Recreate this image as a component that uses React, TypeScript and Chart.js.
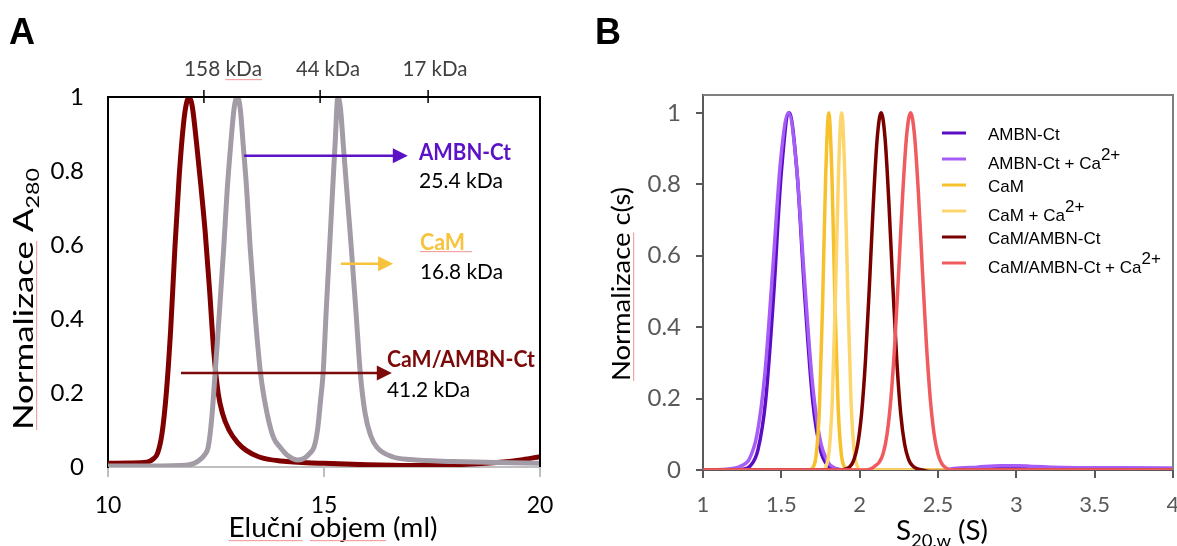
import React, { useEffect, useRef } from 'react';
import { Chart, registerables } from 'chart.js';

Chart.register(...registerables);

// ---------------- Panel A: SEC elution profiles ----------------
const secVolumeComplex = [10, 10.5, 10.9, 11.05, 11.15, 11.25, 11.35, 11.45, 11.55, 11.65, 11.75, 11.82, 11.88, 11.95, 12.05, 12.15, 12.25, 12.35, 12.45, 12.55, 12.65, 12.8, 13.0, 13.2, 13.5, 14, 15, 16, 17, 18, 19, 19.6, 20];
const secA280Complex = [0.01, 0.011, 0.013, 0.022, 0.038, 0.09, 0.2, 0.37, 0.595, 0.79, 0.93, 0.985, 1, 0.975, 0.875, 0.76, 0.635, 0.48, 0.31, 0.2, 0.145, 0.1, 0.066, 0.045, 0.027, 0.016, 0.01, 0.006, 0.004, 0.006, 0.012, 0.02, 0.028];
const secVolumeSingle = [10, 11, 11.8, 12.0, 12.15, 12.25, 12.32, 12.4, 12.48, 12.58, 12.68, 12.76, 12.84, 12.92, 12.99, 13.06, 13.13, 13.21, 13.29, 13.4, 13.53, 13.68, 13.83, 13.98, 14.15, 14.4, 14.55, 14.68, 14.77, 14.85, 14.92, 14.98, 15.05, 15.13, 15.2, 15.26, 15.32, 15.38, 15.45, 15.54, 15.63, 15.74, 15.84, 15.95, 16.08, 16.22, 16.6, 17, 18, 19, 20];
const secA280Single = [0.003, 0.003, 0.005, 0.01, 0.022, 0.035, 0.054, 0.13, 0.254, 0.42, 0.595, 0.75, 0.87, 0.97, 1, 0.97, 0.87, 0.75, 0.595, 0.42, 0.254, 0.146, 0.08, 0.054, 0.032, 0.019, 0.024, 0.038, 0.054, 0.1, 0.18, 0.254, 0.42, 0.595, 0.75, 0.88, 1, 0.97, 0.865, 0.73, 0.595, 0.42, 0.254, 0.146, 0.085, 0.054, 0.027, 0.02, 0.015, 0.012, 0.01];
const secXTicks = [10, 15, 20];
const secYTicks = [0, 0.2, 0.4, 0.6, 0.8, 1];
const secMarkerLabels = ['158 kDa', '44 kDa', '17 kDa'];
const secMarkerVolumes = [12.22, 14.91, 17.41];
const secPeakNames = ['AMBN-Ct', 'CaM', 'CaM/AMBN-Ct'];
const secPeakMasses = ['25.4 kDa', '16.8 kDa', '41.2 kDa'];

// ---------------- Panel B: AUC c(s) distributions ----------------
const aucNames = ['AMBN-Ct', 'AMBN-Ct + Ca²⁺', 'CaM', 'CaM + Ca²⁺', 'CaM/AMBN-Ct', 'CaM/AMBN-Ct + Ca²⁺'];
const sAmbn = [1.0, 1.2, 1.25, 1.3, 1.35, 1.4, 1.45, 1.5, 1.55, 1.6, 1.65, 1.7, 1.75, 1.8, 1.85, 1.9, 2.0, 2.6, 2.75, 2.9, 3.0, 3.1, 3.3, 3.6, 4.0];
const cAmbn = [0, 0, 0.002, 0.011, 0.055, 0.195, 0.484, 0.834, 1.0, 0.834, 0.484, 0.195, 0.055, 0.011, 0.002, 0, 0, 0, 0.005, 0.009, 0.01, 0.008, 0.006, 0.005, 0.004];
const sAmbnCa = [1.0, 1.15, 1.2, 1.245, 1.295, 1.345, 1.395, 1.445, 1.495, 1.545, 1.595, 1.645, 1.695, 1.745, 1.795, 1.845, 1.9, 2.0, 2.5, 2.6, 2.75, 2.9, 3.0, 3.1, 3.3, 3.6, 4.0];
const cAmbnCa = [0, 0.002, 0.005, 0.012, 0.03, 0.1, 0.27, 0.56, 0.865, 1.0, 0.86, 0.55, 0.26, 0.09, 0.024, 0.005, 0, -0.004, -0.004, 0.004, 0.008, 0.012, 0.012, 0.01, 0.007, 0.006, 0.005];
const sCam = [1.0, 1.68, 1.703, 1.723, 1.743, 1.763, 1.783, 1.803, 1.823, 1.843, 1.863, 1.883, 1.903, 1.926, 4.0];
const cCam = [0, 0, 0.008, 0.044, 0.172, 0.458, 0.823, 1.0, 0.823, 0.458, 0.172, 0.044, 0.008, 0, 0];
const sCamCa = [1.0, 1.765, 1.785, 1.805, 1.825, 1.845, 1.865, 1.885, 1.905, 1.925, 1.945, 1.965, 1.985, 2.005, 4.0];
const cCamCa = [0, 0, 0.01, 0.053, 0.192, 0.48, 0.832, 1.0, 0.832, 0.48, 0.192, 0.053, 0.01, 0, 0];
const sComplex = [1.0, 1.88, 1.912, 1.937, 1.962, 1.987, 2.012, 2.037, 2.062, 2.087, 2.112, 2.137, 2.162, 2.187, 2.212, 2.237, 2.262, 2.287, 2.312, 2.337, 2.365, 2.4, 2.45, 2.55, 2.6, 4.0];
const cComplex = [0, 0, 0.003, 0.009, 0.027, 0.07, 0.157, 0.306, 0.514, 0.744, 0.929, 1.0, 0.929, 0.744, 0.514, 0.306, 0.157, 0.072, 0.03, 0.012, 0.004, 0, -0.004, -0.004, 0, 0];
const sComplexCa = [1.0, 2.03, 2.075, 2.1, 2.125, 2.15, 2.175, 2.2, 2.225, 2.25, 2.275, 2.3, 2.325, 2.35, 2.375, 2.4, 2.425, 2.45, 2.475, 2.5, 2.525, 2.55, 2.6, 4.0];
const cComplexCa = [0, 0, 0.004, 0.012, 0.022, 0.046, 0.101, 0.203, 0.36, 0.563, 0.775, 0.938, 1.0, 0.938, 0.775, 0.563, 0.36, 0.203, 0.101, 0.044, 0.017, 0.006, 0, 0];
const aucXTicks = [1, 1.5, 2, 2.5, 3, 3.5, 4];
const aucYTicks = [0, 0.2, 0.4, 0.6, 0.8, 1];

// ---------------- styling ----------------
const COL_COMPLEX_A = '#7F0000';
const COL_SINGLE_A = '#A39CA6';
const ARROW_COLORS = ['#5B12C6', '#F8C33C', '#7C0A0A'];
const AUC_COLORS = ['#5B0DC4', '#A65CF6', '#F7C12C', '#FCD66C', '#7A0000', '#EF5B5F'];
const AUC_ORDER = [6, 5, 4, 3, 2, 1];

type Seg = { t: string; size?: number; weight?: string; family?: string; dy?: number; mark?: boolean };

function drawRich(
  ctx: CanvasRenderingContext2D,
  segs: Seg[],
  x: number,
  y: number,
  o: { color: string; size: number; weight?: string; family?: string; align?: 'left' | 'center' | 'right'; width?: number; rotate?: boolean }
) {
  ctx.save();
  const fontOf = (s: Seg) => `${s.weight || o.weight || 'normal'} ${s.size || o.size}px ${s.family || o.family || 'Lato'}`;
  let total = 0;
  const ws = segs.map((s) => {
    ctx.font = fontOf(s);
    const w = ctx.measureText(s.t).width;
    total += w;
    return w;
  });
  const sx = o.width ? o.width / total : 1;
  ctx.translate(x, y);
  if (o.rotate) ctx.rotate(-Math.PI / 2);
  ctx.scale(sx, 1);
  let cx = o.align === 'center' ? -total / 2 : o.align === 'right' ? -total : 0;
  ctx.textBaseline = 'alphabetic';
  ctx.textAlign = 'left';
  segs.forEach((s, i) => {
    ctx.font = fontOf(s);
    ctx.fillStyle = o.color;
    ctx.fillText(s.t, cx, s.dy || 0);
    if (s.mark) {
      ctx.fillStyle = '#F3A3A3';
      ctx.fillRect(cx, 3, ws[i], 1.2);
    }
    cx += ws[i];
  });
  ctx.restore();
}

function drawArrow(ctx: CanvasRenderingContext2D, x1: number, x2: number, y: number, color: string) {
  ctx.save();
  ctx.strokeStyle = color;
  ctx.fillStyle = color;
  ctx.lineWidth = 2.5;
  ctx.beginPath();
  ctx.moveTo(x1, y);
  ctx.lineTo(x2 - 12, y);
  ctx.stroke();
  ctx.beginPath();
  ctx.moveTo(x2, y);
  ctx.lineTo(x2 - 15, y - 7.5);
  ctx.lineTo(x2 - 15, y + 7.5);
  ctx.closePath();
  ctx.fill();
  ctx.restore();
}

const fmt = (v: number) => String(Math.round(v * 100) / 100);

// annotation anchors (data units) for panel A
const ARROWS_A = [
  { from: 13.15, to: 16.94, level: 0.841 },
  { from: 15.39, to: 16.6, level: 0.549 },
  { from: 11.69, to: 16.57, level: 0.254 },
];
const LABELS_A = [
  { x: 419, nameY: 160, massY: 188, nameW: 92, massW: 84 },
  { x: 420, nameY: 250, massY: 279, nameW: 45, massW: 83 },
  { x: 387, nameY: 367, massY: 397, nameW: 148, massW: 83 },
];
const MARKER_LABEL_X = [223, 328, 435];
const MARKER_LABEL_W = [78, 64, 65];

const panelAPlugin = {
  id: 'panelA',
  afterDatasetsDraw(chart: any) {
    const { ctx, chartArea: a, scales } = chart;
    const x = scales.x;
    const y = scales.y;
    ctx.save();
    ctx.strokeStyle = '#000';
    ctx.lineWidth = 2;
    ctx.beginPath();
    ctx.moveTo(a.left, a.top);
    ctx.lineTo(a.right, a.top);
    ctx.lineTo(a.right, a.bottom);
    ctx.stroke();
    ctx.lineWidth = 1.5;
    secMarkerVolumes.forEach((v) => {
      const px = x.getPixelForValue(v);
      ctx.beginPath();
      ctx.moveTo(px, a.top - 7);
      ctx.lineTo(px, a.top + 6);
      ctx.stroke();
    });
    ctx.restore();

    secMarkerLabels.forEach((lab, i) => {
      const parts = lab.split(' ');
      drawRich(ctx, [{ t: parts[0] + ' ' }, { t: parts[1], mark: i === 0 }], MARKER_LABEL_X[i], 76, {
        color: '#404040', size: 22, align: 'center', width: MARKER_LABEL_W[i],
      });
    });

    ARROWS_A.forEach((ar, i) => {
      drawArrow(ctx, x.getPixelForValue(ar.from), x.getPixelForValue(ar.to), y.getPixelForValue(ar.level), ARROW_COLORS[i]);
      const L = LABELS_A[i];
      drawRich(ctx, [{ t: secPeakNames[i] }], L.x, L.nameY, { color: ARROW_COLORS[i], size: 23, weight: 'bold', width: L.nameW });
      drawRich(ctx, [{ t: secPeakMasses[i] }], L.x, L.massY, { color: '#000', size: 22, width: L.massW });
    });
    ctx.save();
    ctx.fillStyle = '#F3A3A3';
    ctx.fillRect(420, 251, 52, 1.2);
    ctx.restore();

    drawRich(ctx, [{ t: 'Eluční', mark: true }, { t: ' ' }, { t: 'objem', mark: true }, { t: ' (ml)' }], 333, 537, {
      color: '#000', size: 26, align: 'center', width: 209,
    });
    drawRich(ctx, [{ t: 'Normalizace', mark: true }, { t: ' A' }, { t: '280', size: 18, dy: 6 }], 33, 430, {
      color: '#000', size: 27, rotate: true, width: 262,
    });
    drawRich(ctx, [{ t: 'A' }], 9, 44, { color: '#000', size: 36, weight: 'bold', family: 'Liberation Sans' });
  },
};

const LEGEND_LINE_Y = [133, 159, 185, 211, 237, 263];
const panelBPlugin = {
  id: 'panelB',
  afterDatasetsDraw(chart: any) {
    const { ctx, chartArea: a } = chart;
    ctx.save();
    ctx.strokeStyle = '#808080';
    ctx.lineWidth = 2;
    ctx.beginPath();
    ctx.moveTo(a.left, a.top);
    ctx.lineTo(a.right, a.top);
    ctx.lineTo(a.right, a.bottom);
    ctx.stroke();
    ctx.restore();

    aucNames.forEach((name, i) => {
      const ly = LEGEND_LINE_Y[i];
      ctx.save();
      ctx.strokeStyle = AUC_COLORS[i];
      ctx.lineWidth = 3;
      ctx.beginPath();
      ctx.moveTo(357, ly);
      ctx.lineTo(381, ly);
      ctx.stroke();
      ctx.restore();
      const sup = name.endsWith('²⁺');
      if (sup) {
        const base = name.slice(0, -2);
        drawRich(ctx, [{ t: base }, { t: '2+', dy: -9 }], 403, ly + 10, { color: '#000', size: 17, family: 'Liberation Sans' });
      } else {
        drawRich(ctx, [{ t: name }], 403, ly + 6.5, { color: '#000', size: 17, family: 'Liberation Sans' });
      }
    });

    drawRich(ctx, [{ t: 'Normalizace', mark: true }, { t: ' c(s)' }], 45, 381, {
      color: '#000', size: 25, rotate: true, width: 194,
    });
    drawRich(ctx, [{ t: 'S' }, { t: '20,w', size: 18, dy: 7 }, { t: ' (S)' }], 311, 540, {
      color: '#000', size: 27, width: 92,
    });
    drawRich(ctx, [{ t: 'B' }], 10, 44, { color: '#000', size: 36, weight: 'bold', family: 'Liberation Sans' });
  },
};

const toXY = (xs: number[], ys: number[]) => xs.map((x, i) => ({ x, y: ys[i] }));

export default function App() {
  const refA = useRef<HTMLCanvasElement | null>(null);
  const refB = useRef<HTMLCanvasElement | null>(null);

  useEffect(() => {
    Chart.defaults.font.family = 'Lato';
    const lineBase = { pointRadius: 0, fill: false, cubicInterpolationMode: 'monotone' as const };

    const chartA = new Chart(refA.current as HTMLCanvasElement, {
      type: 'line',
      data: {
        datasets: [
          { ...lineBase, label: 'Standard', data: toXY(secVolumeSingle, secA280Single), borderColor: COL_SINGLE_A, borderWidth: 5, order: 0 },
          { ...lineBase, label: 'CaM/AMBN-Ct', data: toXY(secVolumeComplex, secA280Complex), borderColor: COL_COMPLEX_A, borderWidth: 5, order: 1 },
        ],
      },
      options: {
        animation: false,
        responsive: false,
        layout: { padding: { left: 0, right: 45, top: 97, bottom: 0 } },
        plugins: { legend: { display: false }, tooltip: { enabled: false } },
        scales: {
          x: {
            type: 'linear',
            min: 10,
            max: 20,
            afterBuildTicks: (s: any) => { s.ticks = secXTicks.map((v) => ({ value: v })); },
            afterFit: (s: any) => { s.height = 79; },
            grid: { drawOnChartArea: false, drawTicks: true, tickLength: 10, color: '#BFBFBF', lineWidth: 2 },
            border: { display: true, color: '#BFBFBF', width: 2 },
            ticks: { color: '#000', font: { size: 23, family: 'Lato' }, padding: 15, maxRotation: 0, callback: (v: any) => fmt(Number(v)) },
          },
          y: {
            type: 'linear',
            min: 0,
            max: 1,
            afterBuildTicks: (s: any) => { s.ticks = secYTicks.map((v) => ({ value: v })); },
            afterFit: (s: any) => { s.width = 108; },
            grid: { display: false, drawTicks: false },
            border: { display: true, color: '#000', width: 2 },
            ticks: { color: '#000', font: { size: 24, family: 'Lato' }, padding: 24, callback: (v: any) => fmt(Number(v)) },
          },
        },
      },
      plugins: [panelAPlugin],
    });

    const aucSeries = [
      toXY(sAmbn, cAmbn),
      toXY(sAmbnCa, cAmbnCa),
      toXY(sCam, cCam),
      toXY(sCamCa, cCamCa),
      toXY(sComplex, cComplex),
      toXY(sComplexCa, cComplexCa),
    ];

    const chartB = new Chart(refB.current as HTMLCanvasElement, {
      type: 'line',
      data: {
        datasets: aucSeries.map((d, i) => ({
          ...lineBase,
          label: aucNames[i],
          data: d,
          borderColor: AUC_COLORS[i],
          borderWidth: 3.5,
          order: AUC_ORDER[i],
        })),
      },
      options: {
        animation: false,
        responsive: false,
        layout: { padding: { left: 0, right: 4, top: 95, bottom: 0 } },
        plugins: { legend: { display: false }, tooltip: { enabled: false } },
        scales: {
          x: {
            type: 'linear',
            min: 1,
            max: 4,
            afterBuildTicks: (s: any) => { s.ticks = aucXTicks.map((v) => ({ value: v })); },
            afterFit: (s: any) => { s.height = 76; s.paddingRight = 0; s.paddingLeft = 0; },
            grid: { drawOnChartArea: false, drawTicks: true, tickLength: 8, color: '#595959', lineWidth: 2 },
            border: { display: true, color: '#595959', width: 2 },
            ticks: { color: '#595959', font: { size: 22, family: 'Lato' }, padding: 14, maxRotation: 0, callback: (v: any) => fmt(Number(v)) },
          },
          y: {
            type: 'linear',
            min: 0,
            max: 1.05,
            afterBuildTicks: (s: any) => { s.ticks = aucYTicks.map((v) => ({ value: v })); },
            afterFit: (s: any) => { s.width = 118; },
            grid: { drawOnChartArea: false, drawTicks: true, tickLength: 7, color: '#595959', lineWidth: 2 },
            border: { display: true, color: '#595959', width: 2 },
            ticks: { color: '#595959', font: { size: 24, family: 'Lato' }, padding: 15, callback: (v: any) => fmt(Number(v)) },
          },
        },
      },
      plugins: [panelBPlugin],
    });

    return () => {
      chartA.destroy();
      chartB.destroy();
    };
  }, []);

  return (
    <div style={{ position: 'absolute', left: 0, top: 0, width: 1177, height: 546, background: '#fff', overflow: 'hidden' }}>
      <div style={{ position: 'absolute', left: 0, top: 0, width: 585, height: 546 }}>
        <canvas ref={refA} width={585} height={546} style={{ display: 'block', width: 585, height: 546 }} />
      </div>
      <div style={{ position: 'absolute', left: 585, top: 0, width: 592, height: 546 }}>
        <canvas ref={refB} width={592} height={546} style={{ display: 'block', width: 592, height: 546 }} />
      </div>
    </div>
  );
}
